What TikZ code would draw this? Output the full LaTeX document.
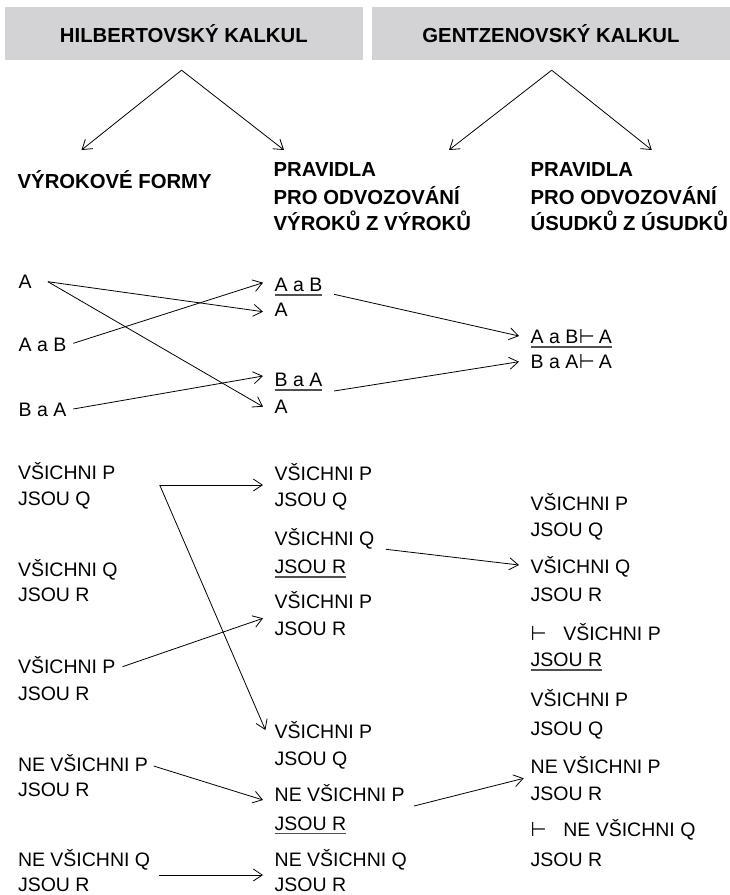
\documentclass[tikz,border=0pt]{standalone}
\usepackage{fontspec}
\usepackage{graphicx}
\setmainfont{Liberation Sans}
\newfontfamily\symf{DejaVu Sans}
\usetikzlibrary{arrows.meta}
\definecolor{boxgray}{RGB}{211,211,213}
\definecolor{ulgray}{RGB}{80,80,80}
\newcommand\bodyf{\fontsize{19.5}{23}\selectfont}
\newcommand\headf{\fontsize{20.3}{24}\selectfont\bfseries}
\newcommand\ulx[1]{\setbox0\hbox{#1}\rlap{\textcolor{ulgray}{\rule[-4.2pt]{\wd0}{1.5pt}}}\box0}
\newcommand\tsym{\resizebox{16pt}{14pt}{\symf ⊢}}
\newcommand\tst{\makebox[32.6pt][l]{\tsym}}
\newcommand\tsi{\kern0.5pt\tsym\kern4pt}
\tikzset{
  txt/.style={anchor=base west, inner sep=0pt, outer sep=0pt, font=\bodyf},
  cat/.style={anchor=base west, inner sep=0pt, outer sep=0pt, font=\headf},
  hbox/.style={fill=boxgray, minimum width=358pt, minimum height=53.3pt, inner sep=0pt, font=\headf},
  arr/.style={-{Straight Barb[length=9pt,width=12pt]}, line width=0.8pt}
}
\begin{document}
\begin{tikzpicture}[x=1pt,y=-1pt]
\useasboundingbox (0,0) rectangle (730,895);
% headers
\node[hbox] (box1) at (183.85,33.35) {HILBERTOVSKÝ KALKUL};
\node[hbox] (box2) at (551,33.35) {GENTZENOVSKÝ KALKUL};
\coordinate (apH) at ([shift={(-2.3,10)}]box1.south);
\coordinate (apG) at ([shift={(0.7,10)}]box2.south);
% categories
\node[cat] (c1) at (17.7,188.3) {VÝROKOVÉ FORMY};
\node[cat] (c2a) at (273.7,176.7) {PRAVIDLA};
\node[cat] (c2b) at (273.7,204) {PRO ODVOZOVÁNÍ};
\node[cat] (c2c) at (273.7,230) {VÝROKŮ Z VÝROKŮ};
\node[cat] (c3a) at (530.7,176.7) {PRAVIDLA};
\node[cat] (c3b) at (530.7,204) {PRO ODVOZOVÁNÍ};
\node[cat] (c3c) at (530.7,230) {ÚSUDKŮ Z ÚSUDKŮ};
\draw[arr] (apH) -- ([shift={(63.8,-38.3)}]c1.base west);
\draw[arr] (apH) -- ([shift={(10.3,-26.7)}]c2a.base west);
\draw[arr] (apG) -- ([shift={(175.3,-26.7)}]c2a.base west);
\draw[arr] (apG) -- ([shift={(121.1,-26.7)}]c3a.base west);
% block 1
\node[txt] (lA) at (18.6,288.3) {A};
\node[txt] (lAaB) at (18.6,351.7) {A a B};
\node[txt] (lBaA) at (18.6,416.7) {B a A};
\node[txt] (mAaB) at (274.7,291.7) {\ulx{A a B}};
\node[txt] (mA1) at (274.7,316.7) {A};
\node[txt] (mBaA) at (274.7,386.7) {\ulx{B a A}};
\node[txt] (mA2) at (274.7,413.3) {A};
\node[txt] (rAaB) at (530.7,343.3) {\ulx{A a B\tsi A}};
\node[txt] (rBaA) at (530.7,368.3) {B a A\tsi A};
\draw[arr] ([shift={(16.3,-6.6)}]lA.base east) -- ([shift={(-11.7,-5)}]mA1.base west);
\draw[arr] ([shift={(16.3,-6.6)}]lA.base east) -- ([shift={(-11.7,-6.6)}]mA2.base west);
\draw[arr] ([shift={(7,-8.4)}]lAaB.base east) -- ([shift={(-11.7,-9)}]mAaB.base west);
\draw[arr] ([shift={(7,-7.7)}]lBaA.base east) -- ([shift={(-11.7,-10.7)}]mBaA.base west);
\draw[arr] ([shift={(11.7,2.6)}]mAaB.base east) -- ([shift={(-11.7,-7.3)}]rAaB.base west);
\draw[arr] ([shift={(11.7,4.3)}]mBaA.base east) -- ([shift={(-11.7,-6.6)}]rBaA.base west);
% block 2 left
\node[txt] (lP1) at (18,479.3) {VŠICHNI P};
\node[txt] (lP1b) at (18,505) {JSOU Q};
\node[txt] (lQ) at (18,576.7) {VŠICHNI Q};
\node[txt] (lQb) at (18,601.7) {JSOU R};
\node[txt] (lP2) at (18,673.3) {VŠICHNI P};
\node[txt] (lP2b) at (18,700) {JSOU R};
\node[txt] (lN1) at (18,771.7) {NE VŠICHNI P};
\node[txt] (lN1b) at (18,796.7) {JSOU R};
\node[txt] (lN2) at (18,866.7) {NE VŠICHNI Q};
\node[txt] (lN2b) at (18,891.5) {JSOU R};
% block 2 middle
\node[txt] (mP1) at (274.7,480.7) {VŠICHNI P};
\node[txt] (mP1b) at (274.7,506.7) {JSOU Q};
\node[txt] (mQ) at (274.7,545) {VŠICHNI Q};
\node[txt] (mQb) at (274.7,573.3) {\ulx{JSOU R}};
\node[txt] (mP3) at (274.7,608.3) {VŠICHNI P};
\node[txt] (mP3b) at (274.7,635) {JSOU R};
\node[txt] (mP4) at (274.7,738.3) {VŠICHNI P};
\node[txt] (mP4b) at (274.7,765) {JSOU Q};
\node[txt] (mN1) at (274.7,801.7) {NE VŠICHNI P};
\node[txt] (mN1b) at (274.7,830) {\ulx{JSOU R}};
\node[txt] (mN2) at (274.7,866.7) {NE VŠICHNI Q};
\node[txt] (mN2b) at (274.7,891.5) {JSOU R};
% block 2 right
\node[txt] (rP1) at (530.7,510) {VŠICHNI P};
\node[txt] (rP1b) at (530.7,536.7) {JSOU Q};
\node[txt] (rQ) at (530.7,573.3) {VŠICHNI Q};
\node[txt] (rQb) at (530.7,601.7) {JSOU R};
\node[txt] (rT1) at (530.7,640) {\tst VŠICHNI P};
\node[txt] (rT1b) at (530.7,666.7) {\ulx{JSOU R}};
\node[txt] (rP2) at (530.7,706.7) {VŠICHNI P};
\node[txt] (rP2b) at (530.7,735) {JSOU Q};
\node[txt] (rN1) at (530.7,773.3) {NE VŠICHNI P};
\node[txt] (rN1b) at (530.7,800) {JSOU R};
\node[txt] (rT2) at (530.7,836.7) {\tst NE VŠICHNI Q};
\node[txt] (rT2b) at (530.7,866.7) {JSOU R};
% block 2 arrows
\coordinate (bend) at ([shift={(44.2,5.7)}]lP1.base east);
\draw[arr] (bend) -- ([shift={(-11.7,4.3)}]mP1.base west);
\draw[arr] (bend) -- ([shift={(-9.3,-8.3)}]mP4.base west);
\draw[arr] ([shift={(11.6,4.3)}]mQ.base east) -- ([shift={(-11.7,-8.3)}]rQ.base west);
\draw[arr] ([shift={(7,-6.6)}]lP2.base east) -- ([shift={(-11.7,10)}]mP3.base west);
\draw[arr] ([shift={(5.6,-5.7)}]lN1.base east) -- ([shift={(-11.7,-1.7)}]mN1.base west);
\draw[arr] ([shift={(9.3,4.3)}]mN1.base east) -- ([shift={(-7,5)}]rN1.base west);
\draw[arr] ([shift={(9.3,8.3)}]lN2.base east) -- ([shift={(-11.7,8.3)}]mN2.base west);
\end{tikzpicture}
\end{document}
